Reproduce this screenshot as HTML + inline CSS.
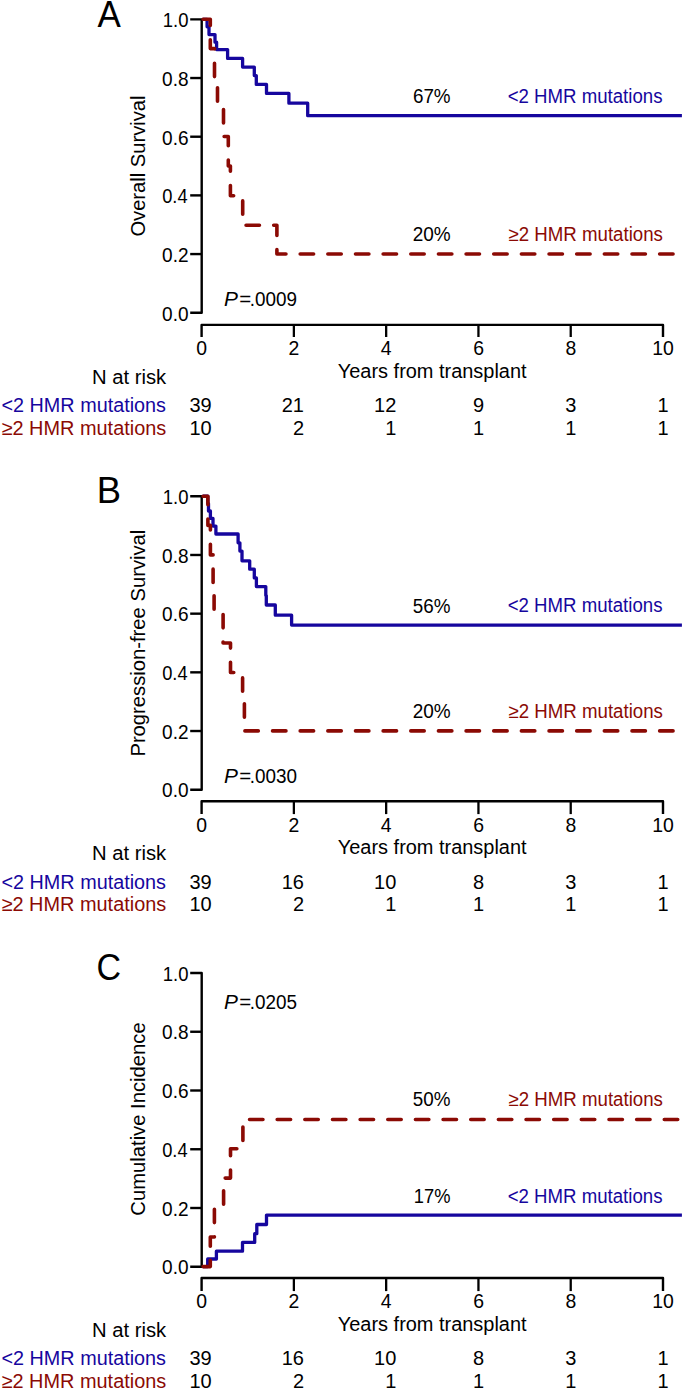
<!DOCTYPE html>
<html><head><meta charset="utf-8"><style>
html,body{margin:0;padding:0;background:#fff;}
svg{display:block;}
text{font-family:"Liberation Sans",sans-serif;}
</style></head><body>
<svg width="685" height="1391" viewBox="0 0 685 1391">
<rect width="685" height="1391" fill="#fff"/>
<g>
<path d="M190.2,19.35 H201.7 V312.75 H190.2" stroke="#000" stroke-width="2.4" fill="none" stroke-linejoin="round"/>
<path d="M190.2,254.07 H201.7" stroke="#000" stroke-width="2.4" fill="none"/>
<path d="M190.2,195.39 H201.7" stroke="#000" stroke-width="2.4" fill="none"/>
<path d="M190.2,136.71 H201.7" stroke="#000" stroke-width="2.4" fill="none"/>
<path d="M190.2,78.03 H201.7" stroke="#000" stroke-width="2.4" fill="none"/>
<path d="M201.6,337.00 V324.90 H663.0 V337.00" stroke="#000" stroke-width="2.4" fill="none" stroke-linejoin="round"/>
<text x="201.70" y="354.90" font-size="19.4" text-anchor="middle" fill="#000">0</text>
<path d="M293.88,324.90 V337.00" stroke="#000" stroke-width="2.3" fill="none"/>
<text x="293.98" y="354.90" font-size="19.4" text-anchor="middle" fill="#000">2</text>
<path d="M386.16,324.90 V337.00" stroke="#000" stroke-width="2.3" fill="none"/>
<text x="386.26" y="354.90" font-size="19.4" text-anchor="middle" fill="#000">4</text>
<path d="M478.44,324.90 V337.00" stroke="#000" stroke-width="2.3" fill="none"/>
<text x="478.54" y="354.90" font-size="19.4" text-anchor="middle" fill="#000">6</text>
<path d="M570.72,324.90 V337.00" stroke="#000" stroke-width="2.3" fill="none"/>
<text x="570.82" y="354.90" font-size="19.4" text-anchor="middle" fill="#000">8</text>
<text x="663.10" y="354.90" font-size="19.4" text-anchor="middle" fill="#000">10</text>
<path d="M202.60,19.30 L207.10,19.30 L207.10,26.80 L209.00,26.80 L209.00,34.60 L215.00,34.60 L215.00,42.20 L216.60,42.20 L216.60,49.60 L227.60,49.60 L227.60,58.40 L242.60,58.40 L242.60,67.10 L254.30,67.10 L254.30,75.60 L256.30,75.60 L256.30,84.40 L266.50,84.40 L266.50,93.40 L288.90,93.40 L288.90,103.20 L307.70,103.20 L307.70,115.70 L681.90,115.70" stroke="#16069e" stroke-width="3.3" fill="none" stroke-linejoin="round" stroke-linecap="butt"/>
<path d="M201.60,19.30 L210.30,19.30 L210.30,48.60 L214.50,48.60 L214.50,78.00 L217.50,78.00 L217.50,107.50 L223.50,107.50 L223.50,136.50 L228.30,136.50 L228.30,166.00 L230.40,166.00 L230.40,195.70 L242.70,195.70 L242.70,225.20 L276.90,225.20 L276.90,254.00 L681.90,254.00" stroke="#8b0a04" stroke-width="3.6" fill="none" stroke-linejoin="round" stroke-linecap="round" stroke-dasharray="13.4 14.25" stroke-dashoffset="26.15"/>
<text x="211.72" y="412.00" font-size="20.0" text-anchor="end" fill="#000">39</text>
<text x="211.72" y="434.70" font-size="20.0" text-anchor="end" fill="#000">10</text>
<text x="304.00" y="412.00" font-size="20.0" text-anchor="end" fill="#000">21</text>
<text x="304.00" y="434.70" font-size="20.0" text-anchor="end" fill="#000">2</text>
<text x="396.28" y="412.00" font-size="20.0" text-anchor="end" fill="#000">12</text>
<text x="396.28" y="434.70" font-size="20.0" text-anchor="end" fill="#000">1</text>
<text x="478.44" y="412.00" font-size="20.0" text-anchor="middle" fill="#000">9</text>
<text x="478.44" y="434.70" font-size="20.0" text-anchor="middle" fill="#000">1</text>
<text x="570.72" y="412.00" font-size="20.0" text-anchor="middle" fill="#000">3</text>
<text x="570.72" y="434.70" font-size="20.0" text-anchor="middle" fill="#000">1</text>
<text x="663.00" y="412.00" font-size="20.0" text-anchor="middle" fill="#000">1</text>
<text x="663.00" y="434.70" font-size="20.0" text-anchor="middle" fill="#000">1</text>
<text x="97.60" y="26.80" font-size="36" fill="#000" textLength="23.32" lengthAdjust="spacingAndGlyphs">A</text>
<text x="162.12" y="320.80" font-size="19.4" fill="#000" textLength="26.43" lengthAdjust="spacingAndGlyphs">0.0</text>
<text x="162.12" y="262.12" font-size="19.4" fill="#000" textLength="26.43" lengthAdjust="spacingAndGlyphs">0.2</text>
<text x="162.16" y="203.44" font-size="19.4" fill="#000" textLength="25.41" lengthAdjust="spacingAndGlyphs">0.4</text>
<text x="162.12" y="144.76" font-size="19.4" fill="#000" textLength="26.43" lengthAdjust="spacingAndGlyphs">0.6</text>
<text x="162.12" y="86.08" font-size="19.4" fill="#000" textLength="26.43" lengthAdjust="spacingAndGlyphs">0.8</text>
<text x="162.85" y="27.40" font-size="19.4" fill="#000" textLength="25.67" lengthAdjust="spacingAndGlyphs">1.0</text>
<text transform="translate(144.90,236.60) rotate(-90)" x="0" y="0" font-size="20.2" fill="#000" textLength="141.16" lengthAdjust="spacingAndGlyphs">Overall Survival</text>
<text x="337.80" y="377.60" font-size="20.0" fill="#000" textLength="188.76" lengthAdjust="spacingAndGlyphs">Years from transplant</text>
<text x="412.93" y="102.70" font-size="19.4" fill="#000" textLength="37.66" lengthAdjust="spacingAndGlyphs">67%</text>
<text x="412.72" y="240.80" font-size="19.4" fill="#000" textLength="37.97" lengthAdjust="spacingAndGlyphs">20%</text>
<text x="507.64" y="102.60" font-size="19.4" fill="#16069e" textLength="154.87" lengthAdjust="spacingAndGlyphs">&lt;2 HMR mutations</text>
<text x="508.44" y="240.90" font-size="19.4" fill="#8b0a04" textLength="154.48" lengthAdjust="spacingAndGlyphs">≥2 HMR mutations</text>
<text x="224.12" y="306.00" font-size="19.4" fill="#000" textLength="13.91" lengthAdjust="spacingAndGlyphs"><tspan font-style="italic">P</tspan></text>
<text x="239.34" y="306.00" font-size="19.4" fill="#000" textLength="11.96" lengthAdjust="spacingAndGlyphs">=</text>
<text x="249.85" y="306.00" font-size="19.4" fill="#000" textLength="47.27" lengthAdjust="spacingAndGlyphs">.0009</text>
<text x="91.98" y="383.80" font-size="20.0" fill="#000" textLength="74.17" lengthAdjust="spacingAndGlyphs">N at risk</text>
<text x="1.51" y="412.00" font-size="20.0" fill="#16069e" textLength="164.46" lengthAdjust="spacingAndGlyphs">&lt;2 HMR mutations</text>
<text x="1.60" y="434.70" font-size="20.0" fill="#8b0a04" textLength="164.66" lengthAdjust="spacingAndGlyphs">≥2 HMR mutations</text>
</g>
<g>
<path d="M190.2,496.30 H201.7 V789.70 H190.2" stroke="#000" stroke-width="2.4" fill="none" stroke-linejoin="round"/>
<path d="M190.2,731.02 H201.7" stroke="#000" stroke-width="2.4" fill="none"/>
<path d="M190.2,672.34 H201.7" stroke="#000" stroke-width="2.4" fill="none"/>
<path d="M190.2,613.66 H201.7" stroke="#000" stroke-width="2.4" fill="none"/>
<path d="M190.2,554.98 H201.7" stroke="#000" stroke-width="2.4" fill="none"/>
<path d="M201.6,814.10 V801.20 H663.0 V814.10" stroke="#000" stroke-width="2.4" fill="none" stroke-linejoin="round"/>
<text x="201.70" y="831.90" font-size="19.4" text-anchor="middle" fill="#000">0</text>
<path d="M293.88,801.20 V814.10" stroke="#000" stroke-width="2.3" fill="none"/>
<text x="293.98" y="831.90" font-size="19.4" text-anchor="middle" fill="#000">2</text>
<path d="M386.16,801.20 V814.10" stroke="#000" stroke-width="2.3" fill="none"/>
<text x="386.26" y="831.90" font-size="19.4" text-anchor="middle" fill="#000">4</text>
<path d="M478.44,801.20 V814.10" stroke="#000" stroke-width="2.3" fill="none"/>
<text x="478.54" y="831.90" font-size="19.4" text-anchor="middle" fill="#000">6</text>
<path d="M570.72,801.20 V814.10" stroke="#000" stroke-width="2.3" fill="none"/>
<text x="570.82" y="831.90" font-size="19.4" text-anchor="middle" fill="#000">8</text>
<text x="663.10" y="831.90" font-size="19.4" text-anchor="middle" fill="#000">10</text>
<path d="M202.60,496.20 L207.80,496.20 L207.80,503.50 L208.50,503.50 L208.50,511.00 L210.40,511.00 L210.40,518.40 L213.00,518.40 L213.00,526.10 L215.90,526.10 L215.90,534.00 L238.10,534.00 L238.10,542.80 L239.90,542.80 L239.90,551.10 L242.00,551.10 L242.00,560.80 L249.70,560.80 L249.70,569.20 L254.30,569.20 L254.30,577.90 L256.40,577.90 L256.40,586.60 L265.80,586.60 L265.80,595.60 L266.30,595.60 L266.30,605.00 L275.30,605.00 L275.30,615.20 L291.60,615.20 L291.60,625.10 L681.90,625.10" stroke="#16069e" stroke-width="3.3" fill="none" stroke-linejoin="round" stroke-linecap="butt"/>
<path d="M201.60,496.20 L207.90,496.20 L207.90,525.40 L210.40,525.40 L210.40,554.90 L213.10,554.90 L213.10,584.30 L214.10,584.30 L214.10,613.50 L223.10,613.50 L223.10,643.00 L230.50,643.00 L230.50,672.50 L242.60,672.50 L242.60,702.00 L244.40,702.00 L244.40,730.90 L681.90,730.90" stroke="#8b0a04" stroke-width="3.6" fill="none" stroke-linejoin="round" stroke-linecap="round" stroke-dasharray="13.4 14.25" stroke-dashoffset="26.15"/>
<text x="211.72" y="888.65" font-size="20.0" text-anchor="end" fill="#000">39</text>
<text x="211.72" y="911.35" font-size="20.0" text-anchor="end" fill="#000">10</text>
<text x="304.00" y="888.65" font-size="20.0" text-anchor="end" fill="#000">16</text>
<text x="304.00" y="911.35" font-size="20.0" text-anchor="end" fill="#000">2</text>
<text x="396.28" y="888.65" font-size="20.0" text-anchor="end" fill="#000">10</text>
<text x="396.28" y="911.35" font-size="20.0" text-anchor="end" fill="#000">1</text>
<text x="478.44" y="888.65" font-size="20.0" text-anchor="middle" fill="#000">8</text>
<text x="478.44" y="911.35" font-size="20.0" text-anchor="middle" fill="#000">1</text>
<text x="570.72" y="888.65" font-size="20.0" text-anchor="middle" fill="#000">3</text>
<text x="570.72" y="911.35" font-size="20.0" text-anchor="middle" fill="#000">1</text>
<text x="663.00" y="888.65" font-size="20.0" text-anchor="middle" fill="#000">1</text>
<text x="663.00" y="911.35" font-size="20.0" text-anchor="middle" fill="#000">1</text>
<text x="96.87" y="502.70" font-size="36" fill="#000" textLength="24.27" lengthAdjust="spacingAndGlyphs">B</text>
<text x="162.12" y="797.25" font-size="19.4" fill="#000" textLength="26.43" lengthAdjust="spacingAndGlyphs">0.0</text>
<text x="162.12" y="738.57" font-size="19.4" fill="#000" textLength="26.43" lengthAdjust="spacingAndGlyphs">0.2</text>
<text x="162.16" y="679.89" font-size="19.4" fill="#000" textLength="25.41" lengthAdjust="spacingAndGlyphs">0.4</text>
<text x="162.12" y="621.21" font-size="19.4" fill="#000" textLength="26.43" lengthAdjust="spacingAndGlyphs">0.6</text>
<text x="162.12" y="562.53" font-size="19.4" fill="#000" textLength="26.43" lengthAdjust="spacingAndGlyphs">0.8</text>
<text x="162.85" y="503.85" font-size="19.4" fill="#000" textLength="25.67" lengthAdjust="spacingAndGlyphs">1.0</text>
<text transform="translate(144.90,756.60) rotate(-90)" x="0" y="0" font-size="20.2" fill="#000" textLength="226.94" lengthAdjust="spacingAndGlyphs">Progression-free Survival</text>
<text x="337.80" y="854.25" font-size="20.0" fill="#000" textLength="188.76" lengthAdjust="spacingAndGlyphs">Years from transplant</text>
<text x="412.83" y="612.50" font-size="19.4" fill="#000" textLength="37.66" lengthAdjust="spacingAndGlyphs">56%</text>
<text x="412.72" y="717.90" font-size="19.4" fill="#000" textLength="37.97" lengthAdjust="spacingAndGlyphs">20%</text>
<text x="507.64" y="612.40" font-size="19.4" fill="#16069e" textLength="154.87" lengthAdjust="spacingAndGlyphs">&lt;2 HMR mutations</text>
<text x="508.44" y="717.90" font-size="19.4" fill="#8b0a04" textLength="154.48" lengthAdjust="spacingAndGlyphs">≥2 HMR mutations</text>
<text x="224.12" y="782.60" font-size="19.4" fill="#000" textLength="13.91" lengthAdjust="spacingAndGlyphs"><tspan font-style="italic">P</tspan></text>
<text x="239.34" y="782.60" font-size="19.4" fill="#000" textLength="11.96" lengthAdjust="spacingAndGlyphs">=</text>
<text x="249.85" y="782.60" font-size="19.4" fill="#000" textLength="47.27" lengthAdjust="spacingAndGlyphs">.0030</text>
<text x="91.98" y="860.45" font-size="20.0" fill="#000" textLength="74.17" lengthAdjust="spacingAndGlyphs">N at risk</text>
<text x="1.51" y="888.65" font-size="20.0" fill="#16069e" textLength="164.46" lengthAdjust="spacingAndGlyphs">&lt;2 HMR mutations</text>
<text x="1.60" y="911.35" font-size="20.0" fill="#8b0a04" textLength="164.66" lengthAdjust="spacingAndGlyphs">≥2 HMR mutations</text>
</g>
<g>
<path d="M190.2,973.00 H201.7 V1266.75 H190.2" stroke="#000" stroke-width="2.4" fill="none" stroke-linejoin="round"/>
<path d="M190.2,1208.00 H201.7" stroke="#000" stroke-width="2.4" fill="none"/>
<path d="M190.2,1149.25 H201.7" stroke="#000" stroke-width="2.4" fill="none"/>
<path d="M190.2,1090.50 H201.7" stroke="#000" stroke-width="2.4" fill="none"/>
<path d="M190.2,1031.75 H201.7" stroke="#000" stroke-width="2.4" fill="none"/>
<path d="M201.6,1291.10 V1278.00 H663.0 V1291.10" stroke="#000" stroke-width="2.4" fill="none" stroke-linejoin="round"/>
<text x="201.70" y="1307.90" font-size="19.4" text-anchor="middle" fill="#000">0</text>
<path d="M293.88,1278.00 V1291.10" stroke="#000" stroke-width="2.3" fill="none"/>
<text x="293.98" y="1307.90" font-size="19.4" text-anchor="middle" fill="#000">2</text>
<path d="M386.16,1278.00 V1291.10" stroke="#000" stroke-width="2.3" fill="none"/>
<text x="386.26" y="1307.90" font-size="19.4" text-anchor="middle" fill="#000">4</text>
<path d="M478.44,1278.00 V1291.10" stroke="#000" stroke-width="2.3" fill="none"/>
<text x="478.54" y="1307.90" font-size="19.4" text-anchor="middle" fill="#000">6</text>
<path d="M570.72,1278.00 V1291.10" stroke="#000" stroke-width="2.3" fill="none"/>
<text x="570.82" y="1307.90" font-size="19.4" text-anchor="middle" fill="#000">8</text>
<text x="663.10" y="1307.90" font-size="19.4" text-anchor="middle" fill="#000">10</text>
<path d="M202.60,1266.60 L207.70,1266.60 L207.70,1259.00 L216.40,1259.00 L216.40,1251.20 L242.50,1251.20 L242.50,1242.40 L254.70,1242.40 L254.70,1233.70 L256.80,1233.70 L256.80,1224.50 L266.50,1224.50 L266.50,1215.10 L681.90,1215.10" stroke="#16069e" stroke-width="3.3" fill="none" stroke-linejoin="round" stroke-linecap="butt"/>
<path d="M201.60,1266.60 L210.30,1266.60 L210.30,1237.00 L214.40,1237.00 L214.40,1207.50 L223.60,1207.50 L223.60,1178.10 L230.50,1178.10 L230.50,1148.70 L242.90,1148.70 L242.90,1119.50 L681.90,1119.50" stroke="#8b0a04" stroke-width="3.6" fill="none" stroke-linejoin="round" stroke-linecap="round" stroke-dasharray="13.4 14.25" stroke-dashoffset="26.15"/>
<text x="211.72" y="1365.30" font-size="20.0" text-anchor="end" fill="#000">39</text>
<text x="211.72" y="1388.00" font-size="20.0" text-anchor="end" fill="#000">10</text>
<text x="304.00" y="1365.30" font-size="20.0" text-anchor="end" fill="#000">16</text>
<text x="304.00" y="1388.00" font-size="20.0" text-anchor="end" fill="#000">2</text>
<text x="396.28" y="1365.30" font-size="20.0" text-anchor="end" fill="#000">10</text>
<text x="396.28" y="1388.00" font-size="20.0" text-anchor="end" fill="#000">1</text>
<text x="478.44" y="1365.30" font-size="20.0" text-anchor="middle" fill="#000">8</text>
<text x="478.44" y="1388.00" font-size="20.0" text-anchor="middle" fill="#000">1</text>
<text x="570.72" y="1365.30" font-size="20.0" text-anchor="middle" fill="#000">3</text>
<text x="570.72" y="1388.00" font-size="20.0" text-anchor="middle" fill="#000">1</text>
<text x="663.00" y="1365.30" font-size="20.0" text-anchor="middle" fill="#000">1</text>
<text x="663.00" y="1388.00" font-size="20.0" text-anchor="middle" fill="#000">1</text>
<text x="96.51" y="980.00" font-size="36" fill="#000" textLength="24.53" lengthAdjust="spacingAndGlyphs">C</text>
<text x="162.12" y="1274.30" font-size="19.4" fill="#000" textLength="26.43" lengthAdjust="spacingAndGlyphs">0.0</text>
<text x="162.12" y="1215.55" font-size="19.4" fill="#000" textLength="26.43" lengthAdjust="spacingAndGlyphs">0.2</text>
<text x="162.16" y="1156.80" font-size="19.4" fill="#000" textLength="25.41" lengthAdjust="spacingAndGlyphs">0.4</text>
<text x="162.12" y="1098.05" font-size="19.4" fill="#000" textLength="26.43" lengthAdjust="spacingAndGlyphs">0.6</text>
<text x="162.12" y="1039.30" font-size="19.4" fill="#000" textLength="26.43" lengthAdjust="spacingAndGlyphs">0.8</text>
<text x="162.85" y="980.55" font-size="19.4" fill="#000" textLength="25.67" lengthAdjust="spacingAndGlyphs">1.0</text>
<text transform="translate(144.90,1215.70) rotate(-90)" x="0" y="0" font-size="20.2" fill="#000" textLength="193.42" lengthAdjust="spacingAndGlyphs">Cumulative Incidence</text>
<text x="337.80" y="1330.90" font-size="20.0" fill="#000" textLength="188.76" lengthAdjust="spacingAndGlyphs">Years from transplant</text>
<text x="413.86" y="1203.00" font-size="19.4" fill="#000" textLength="36.61" lengthAdjust="spacingAndGlyphs">17%</text>
<text x="412.83" y="1106.40" font-size="19.4" fill="#000" textLength="37.66" lengthAdjust="spacingAndGlyphs">50%</text>
<text x="507.64" y="1202.70" font-size="19.4" fill="#16069e" textLength="154.87" lengthAdjust="spacingAndGlyphs">&lt;2 HMR mutations</text>
<text x="508.44" y="1106.20" font-size="19.4" fill="#8b0a04" textLength="154.48" lengthAdjust="spacingAndGlyphs">≥2 HMR mutations</text>
<text x="224.12" y="1009.40" font-size="19.4" fill="#000" textLength="13.91" lengthAdjust="spacingAndGlyphs"><tspan font-style="italic">P</tspan></text>
<text x="239.34" y="1009.40" font-size="19.4" fill="#000" textLength="11.96" lengthAdjust="spacingAndGlyphs">=</text>
<text x="249.85" y="1009.40" font-size="19.4" fill="#000" textLength="47.27" lengthAdjust="spacingAndGlyphs">.0205</text>
<text x="91.98" y="1337.10" font-size="20.0" fill="#000" textLength="74.17" lengthAdjust="spacingAndGlyphs">N at risk</text>
<text x="1.51" y="1365.30" font-size="20.0" fill="#16069e" textLength="164.46" lengthAdjust="spacingAndGlyphs">&lt;2 HMR mutations</text>
<text x="1.60" y="1388.00" font-size="20.0" fill="#8b0a04" textLength="164.66" lengthAdjust="spacingAndGlyphs">≥2 HMR mutations</text>
</g>
</svg>
</body></html>
